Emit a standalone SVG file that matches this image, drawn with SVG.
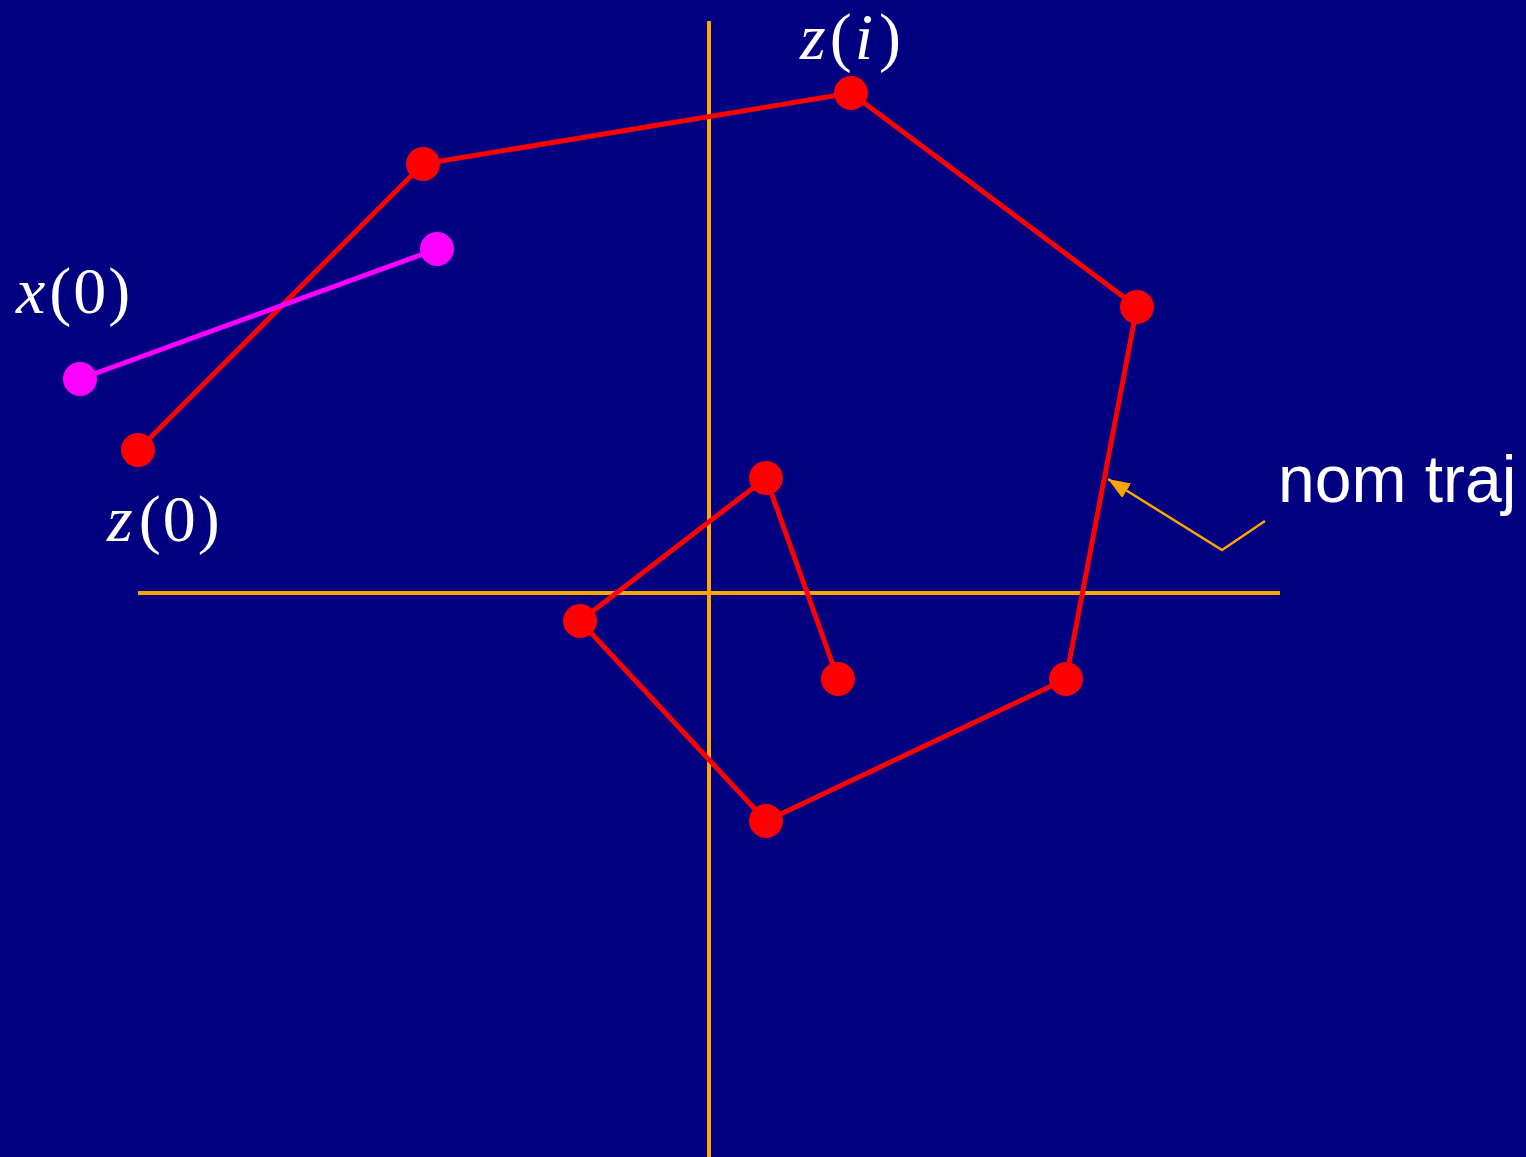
<svg xmlns="http://www.w3.org/2000/svg" width="1526" height="1157" viewBox="0 0 1526 1157">
<defs>
<style>
.axis{stroke:#FFA500;stroke-width:4;fill:none}
.traj{stroke:#FF0000;stroke-width:5;fill:none;stroke-linejoin:round}
.mag{stroke:#FF00FF;stroke-width:5;fill:none}
.rd{fill:#FF0000}
.md{fill:#FF00FF}
.math{font-family:"Liberation Serif",serif;fill:#FFFFFF;font-size:66px}
.it{font-style:italic}
.lbl{font-family:"Liberation Sans",Arial,sans-serif;fill:#FFFFFF;font-size:66px}
.lead{stroke:#FFA500;stroke-width:2.5;fill:none}
</style>
<marker id="ah2" viewBox="0 0 10 10" refX="10" refY="5" markerWidth="22" markerHeight="17" preserveAspectRatio="none" markerUnits="userSpaceOnUse" orient="auto">
<path d="M0,0 L10,5 L0,10 z" fill="#FFA500"/>
</marker>
</defs>
<rect width="1526" height="1157" fill="#000080"/>
<g id="axes">
<line class="axis" x1="709" y1="21" x2="709" y2="1157"/>
<line class="axis" x1="138" y1="593" x2="1280" y2="593"/>
</g>
<g id="connectors">
<polyline class="traj" points="138,450 423,164 851,93 1137,307 1066,679 766,821 580,621 766,478 838,679"/>
<line class="mag" x1="80" y1="379" x2="437" y2="249"/>
<polyline class="lead" points="1265,521 1222,550 1108,479" marker-end="url(#ah2)"/>
</g>
<g id="nodes">
<circle id="z0" class="rd" cx="138" cy="450" r="17"/>
<circle id="z1" class="rd" cx="423" cy="164" r="17"/>
<circle id="zi" class="rd" cx="851" cy="93" r="17"/>
<circle id="z3" class="rd" cx="1137" cy="307" r="17"/>
<circle id="z4" class="rd" cx="1066" cy="679" r="17"/>
<circle id="z5" class="rd" cx="766" cy="821" r="17"/>
<circle id="z6" class="rd" cx="580" cy="621" r="17"/>
<circle id="z7" class="rd" cx="766" cy="478" r="17"/>
<circle id="z8" class="rd" cx="838" cy="679" r="17"/>
<circle id="x0" class="md" cx="80" cy="379" r="17"/>
<circle id="x1" class="md" cx="437" cy="249" r="17"/>
</g>
<g id="labels">
<text class="math" x="800" y="59"><tspan class="it">z</tspan><tspan dx="4">(</tspan><tspan class="it" dx="3">i</tspan><tspan dx="6">)</tspan></text>
<text class="math" x="16" y="313"><tspan class="it">x</tspan><tspan dx="4">(</tspan><tspan dx="2">0</tspan><tspan dx="2">)</tspan></text>
<text class="math" x="107" y="541"><tspan class="it">z</tspan><tspan dx="6">(</tspan><tspan dx="2">0</tspan><tspan dx="2">)</tspan></text>
<text class="lbl" x="1278" y="502">nom traj</text>
</g>
</svg>
